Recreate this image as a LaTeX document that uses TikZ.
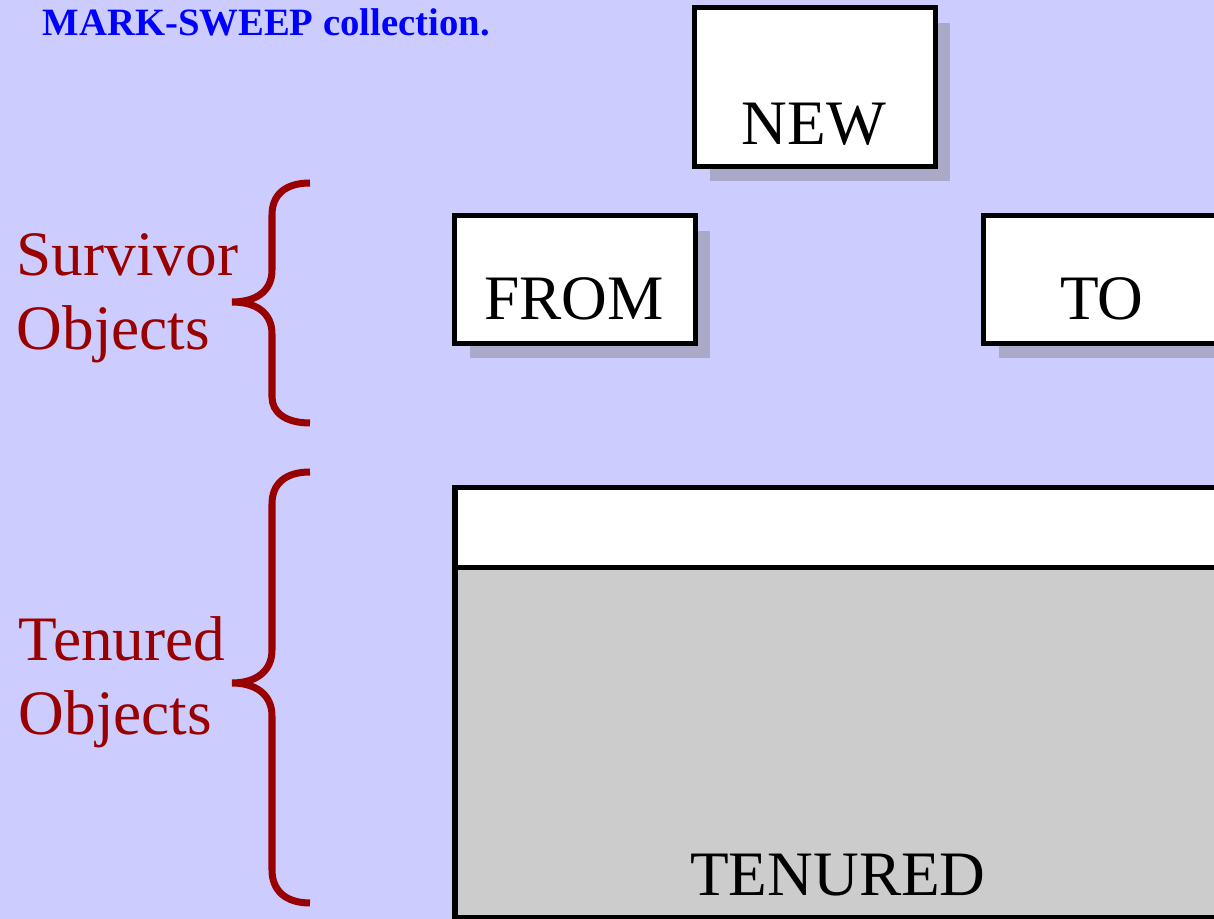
\documentclass[tikz,border=0pt]{standalone}
\usepackage{fontspec}
\setmainfont{Liberation Serif}
\usetikzlibrary{shadows}
\definecolor{slidebg}{RGB}{204,204,255}
\definecolor{bracered}{RGB}{153,0,0}
\definecolor{shadowgray}{RGB}{170,170,200}
\definecolor{tenuredgray}{RGB}{204,204,204}

\begin{document}
\begin{tikzpicture}[x=0.01cm, y=-0.01cm,
  space/.style={draw, line width=0.05cm, fill=white, inner sep=0pt,
    drop shadow={shadow xshift=0.15cm, shadow yshift=-0.15cm, fill=shadowgray, opacity=1}},
  spacelabel/.style={anchor=base, inner sep=0pt, font=\fontsize{18}{21}\selectfont},
  bracelabel/.style={anchor=base west, align=left, inner sep=0pt, text=bracered,
    font=\fontsize{18}{21.3}\selectfont},
  curly/.style={draw=bracered, line width=0.07cm}]
\fill[slidebg] (0,0) rectangle (1214,919);
\useasboundingbox (0,0) rectangle (1214,919);
\clip (0,0) rectangle (1214,919);

\node[anchor=base west, inner sep=0pt, text=blue, font=\bfseries\fontsize{11}{13}\selectfont]
  (title) at (42,36) {MARK-SWEEP collection.};

% young generation
\node[space, minimum width=2.4cm, minimum height=1.58cm] (new) at (815,87) {};
\node[spacelabel] (newlabel) at (814,145) {NEW};
\node[space, minimum width=2.4cm, minimum height=1.27cm] (from) at (575,279.5) {};
\node[spacelabel] (fromlabel) at (574,320) {FROM};
\node[space, minimum width=3cm, minimum height=1.27cm] (to) at (1134,279.5) {};
\node[spacelabel] (tolabel) at (1102,320) {TO};

% old generation
\node[draw, line width=0.05cm, fill=tenuredgray, inner sep=0pt,
  minimum width=8.45cm, minimum height=4.29cm] (tenured) at (877.5,702.5) {};
\fill[white] (455,488) rectangle (1300,568);
\draw[line width=0.05cm] (455,488) -- (1300,488);
\draw[line width=0.05cm] (455,568) -- (1300,568);
\draw[line width=0.05cm] (455,486) -- (455,919);
\node[spacelabel] (tenuredlabel) at (838,896) {TENURED};

% braces
\draw[curly] (310,183) .. controls (285,183) and (272,195) .. (272,215) -- (272,270)
  .. controls (272,292) and (255,302) .. (232,302)
  .. controls (255,302) and (272,312) .. (272,334) -- (272,397)
  .. controls (272,412) and (285,423) .. (310,423);
\draw[curly] (310,472) .. controls (285,472) and (272,484) .. (272,504) -- (272,650)
  .. controls (272,672) and (255,683) .. (232,683)
  .. controls (255,683) and (272,694) .. (272,716) -- (272,870)
  .. controls (272,890) and (285,903) .. (310,903);
\node[bracelabel] (survivor) at (16,350) {Survivor\\Objects};
\node[bracelabel] (tenuredobj) at (18,735) {Tenured\\Objects};
\end{tikzpicture}
\end{document}
